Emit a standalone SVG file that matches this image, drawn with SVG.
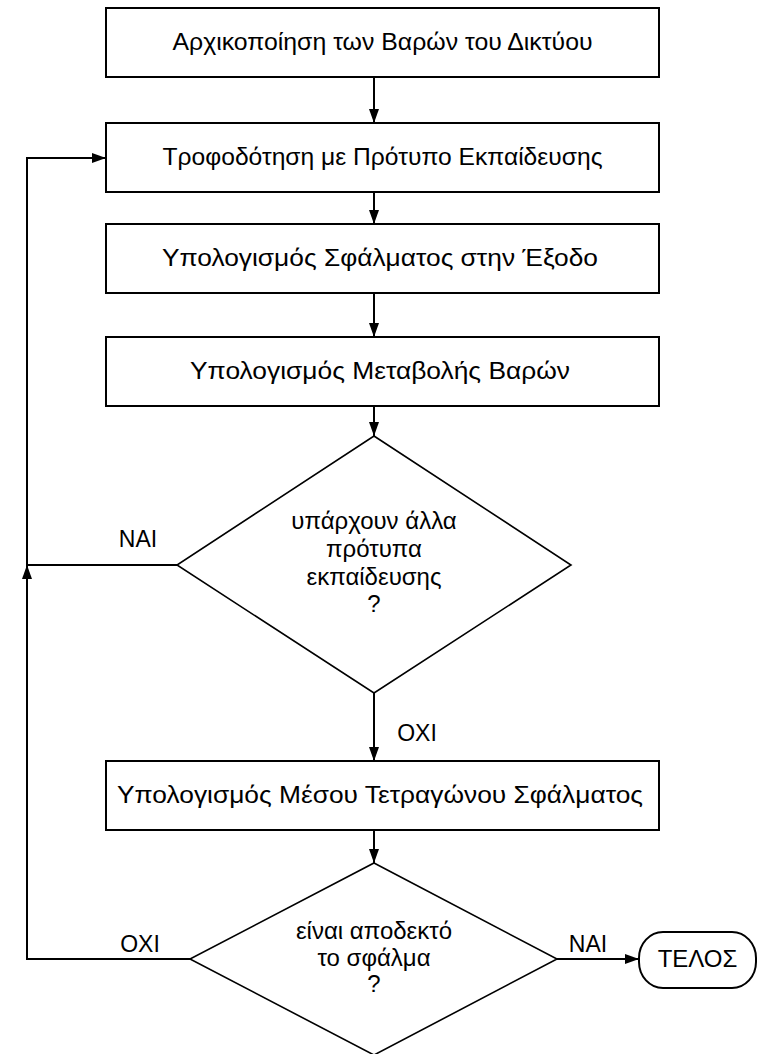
<svg xmlns="http://www.w3.org/2000/svg" width="761" height="1054" viewBox="0 0 761 1054">
<style>
.box{fill:#fff;stroke:#000;stroke-width:2}
.dia{fill:#fff;stroke:#000;stroke-width:1.6}
.t{font-family:"Liberation Sans",Arial,sans-serif;font-size:23px;fill:#000;text-anchor:middle}
.d{font-size:24px}
.c{fill:none;stroke:#000;stroke-width:2}
</style>
<defs>
<marker id="ah" viewBox="0 0 14 10" refX="14" refY="5" markerWidth="14" markerHeight="10" markerUnits="userSpaceOnUse" orient="auto">
<path d="M0,0 L14,5 L0,10 Z" fill="#000"/>
</marker>
</defs>
<g id="connectors">
<line class="c" x1="374" y1="77" x2="374" y2="123" marker-end="url(#ah)"/>
<line class="c" x1="374" y1="192" x2="374" y2="224" marker-end="url(#ah)"/>
<line class="c" x1="374" y1="293" x2="374" y2="337" marker-end="url(#ah)"/>
<line class="c" x1="374" y1="406" x2="374" y2="436" marker-end="url(#ah)"/>
<line class="c" x1="374" y1="693" x2="374" y2="761" marker-end="url(#ah)"/>
<line class="c" x1="374" y1="830" x2="374" y2="863" marker-end="url(#ah)"/>
<polyline class="c" points="177,565 27,565 27,158 106,158" marker-end="url(#ah)"/>
<polyline class="c" points="190,959 27,959 27,565" marker-end="url(#ah)"/>
<line class="c" x1="557" y1="959" x2="639" y2="959" marker-end="url(#ah)"/>
<text class="t" x="138" y="547">ΝΑΙ</text>
<text class="t" x="417" y="741">ΟΧΙ</text>
<text class="t" x="140" y="952">ΟΧΙ</text>
<text class="t" x="588" y="952">ΝΑΙ</text>
</g>
<g id="n1"><rect class="box" x="106" y="8" width="553" height="69"/><text class="t" x="382.5" y="50" textLength="420" lengthAdjust="spacingAndGlyphs">Αρχικοποίηση των Βαρών του Δικτύου</text></g>
<g id="n2"><rect class="box" x="106" y="123" width="553" height="69"/><text class="t" x="382.5" y="165" textLength="440" lengthAdjust="spacingAndGlyphs">Τροφοδότηση με Πρότυπο Εκπαίδευσης</text></g>
<g id="n3"><rect class="box" x="106" y="224" width="553" height="69"/><text class="t" x="380" y="266" textLength="436" lengthAdjust="spacingAndGlyphs">Υπολογισμός Σφάλματος στην Έξοδο</text></g>
<g id="n4"><rect class="box" x="106" y="337" width="553" height="69"/><text class="t" x="380" y="379" textLength="380" lengthAdjust="spacingAndGlyphs">Υπολογισμός Μεταβολής Βαρών</text></g>
<g id="d1"><polygon class="dia" points="374,436 571,565 374,693 177,565"/>
<text class="t d" x="374" y="529">υπάρχουν άλλα</text>
<text class="t d" x="374" y="557">πρότυπα</text>
<text class="t d" x="374" y="585">εκπαίδευσης</text>
<text class="t d" x="374" y="612">?</text></g>
<g id="n5"><rect class="box" x="106" y="761" width="553" height="69"/><text class="t" x="380" y="803" textLength="526" lengthAdjust="spacingAndGlyphs">Υπολογισμός Μέσου Τετραγώνου Σφάλματος</text></g>
<g id="d2"><polygon class="dia" points="374,863 557,959 374,1055 190,959"/>
<text class="t d" x="374" y="939">είναι αποδεκτό</text>
<text class="t d" x="374" y="966">το σφάλμα</text>
<text class="t d" x="374" y="992">?</text></g>
<g id="end"><rect class="box" x="639" y="932" width="117" height="56" rx="24" ry="26"/><text class="t d" x="697.5" y="967">ΤΕΛΟΣ</text></g>
</svg>
